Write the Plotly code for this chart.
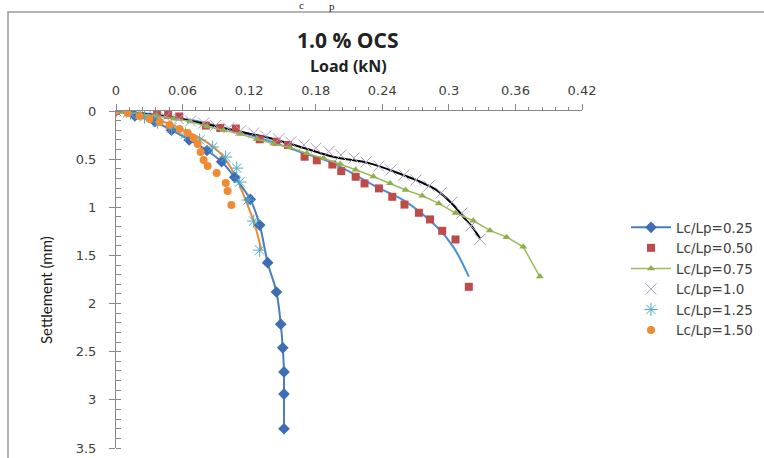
import plotly.graph_objects as go

# ---------------- data (Load kN, Settlement mm) ----------------
load_025 = [0, 0.017, 0.035, 0.050, 0.066, 0.082, 0.0952, 0.107, 0.121, 0.1295, 0.1367, 0.1446, 0.1485, 0.1503, 0.1514, 0.1514, 0.1514]
sett_025 = [0, 0.05, 0.11, 0.20, 0.30, 0.41, 0.527, 0.689, 0.918, 1.185, 1.575, 1.88, 2.214, 2.46, 2.71, 2.94, 3.30]

load_050 = [0, 0.037, 0.047, 0.057, 0.081, 0.094, 0.108, 0.1295, 0.1446, 0.155, 0.170, 0.181, 0.195, 0.203, 0.216, 0.224, 0.237, 0.249, 0.260, 0.273, 0.283, 0.294, 0.306, 0.318]
sett_050 = [0, 0.026, 0.042, 0.057, 0.151, 0.177, 0.182, 0.294, 0.319, 0.353, 0.475, 0.512, 0.556, 0.624, 0.683, 0.752, 0.804, 0.891, 0.972, 1.057, 1.126, 1.244, 1.334, 1.826]

load_075 = [0, 0.007, 0.022, 0.037, 0.052, 0.067, 0.082, 0.097, 0.112, 0.127, 0.142, 0.157, 0.172, 0.187, 0.202, 0.216, 0.232, 0.247, 0.261, 0.276, 0.291, 0.306, 0.322, 0.337, 0.352, 0.367, 0.382]
sett_075 = [0, 0.01, 0.03, 0.05, 0.08, 0.11, 0.16, 0.20, 0.24, 0.29, 0.34, 0.38, 0.44, 0.49, 0.55, 0.61, 0.68, 0.75, 0.82, 0.88, 0.96, 1.06, 1.14, 1.24, 1.31, 1.41, 1.72]

load_100 = [0, 0.0113, 0.0221, 0.0338, 0.0447, 0.0564, 0.0672, 0.0790, 0.0898, 0.1015, 0.1124, 0.1241, 0.1349, 0.1467, 0.1575, 0.1693, 0.1801, 0.1918, 0.2027, 0.2144, 0.2252, 0.2369, 0.2477, 0.2595, 0.2703, 0.2820, 0.2928, 0.3028, 0.3118, 0.3199, 0.3280]
sett_100 = [0, 0.010, 0.026, 0.042, 0.062, 0.083, 0.104, 0.125, 0.151, 0.177, 0.203, 0.229, 0.260, 0.291, 0.322, 0.353, 0.385, 0.421, 0.457, 0.489, 0.530, 0.572, 0.613, 0.665, 0.717, 0.780, 0.852, 0.946, 1.060, 1.195, 1.331]

load_125 = [0, 0.0131, 0.0257, 0.0375, 0.0501, 0.0627, 0.0754, 0.0871, 0.0988, 0.1088, 0.1115, 0.1190, 0.1241, 0.1295]
sett_125 = [0, 0.021, 0.062, 0.114, 0.177, 0.239, 0.301, 0.374, 0.478, 0.593, 0.738, 0.925, 1.143, 1.445]

load_150 = [0, 0.0104, 0.0212, 0.0302, 0.0393, 0.0483, 0.0573, 0.0645, 0.0699, 0.0736, 0.0763, 0.0790, 0.0826, 0.0907, 0.0989, 0.1006, 0.1040]
sett_150 = [0, 0.021, 0.052, 0.083, 0.114, 0.146, 0.187, 0.229, 0.281, 0.343, 0.426, 0.509, 0.572, 0.644, 0.748, 0.832, 0.977]

# fitted curves (no legend entries)
fit050_load = [0, 0.03, 0.05, 0.0754, 0.105, 0.1356, 0.1656, 0.1957, 0.238, 0.259, 0.289, 0.304, 0.318]
fit050_sett = [0, 0.03, 0.06, 0.111, 0.198, 0.302, 0.423, 0.544, 0.807, 0.926, 1.203, 1.411, 1.72]

fit100_load = [0, 0.04, 0.0754, 0.105, 0.1356, 0.1656, 0.1957, 0.2288, 0.2588, 0.274, 0.289, 0.304, 0.313, 0.322, 0.328]
fit100_sett = [0, 0.05, 0.122, 0.198, 0.273, 0.371, 0.475, 0.544, 0.665, 0.735, 0.821, 0.977, 1.099, 1.219, 1.323]

fit125_load = [0, 0.02, 0.04, 0.06, 0.08, 0.095, 0.107, 0.116, 0.125, 0.131]
fit125_sett = [0, 0.04, 0.10, 0.19, 0.31, 0.45, 0.66, 0.90, 1.18, 1.445]

names = ["Lc/Lp=0.25", "Lc/Lp=0.50", "Lc/Lp=0.75", "Lc/Lp=1.0", "Lc/Lp=1.25", "Lc/Lp=1.50"]
x_ticks = [0, 0.06, 0.12, 0.18, 0.24, 0.3, 0.36, 0.42]
x_tick_text = ["0", "0.06", "0.12", "0.18", "0.24", "0.3", "0.36", "0.42"]
y_ticks = [0, 0.5, 1, 1.5, 2, 2.5, 3, 3.5]
y_tick_text = ["0", "0.5", "1", "1.5", "2", "2.5", "3", "3.5"]

fig = go.Figure()

# fitted curves first (under markers)
fig.add_trace(go.Scatter(x=fit050_load, y=fit050_sett, mode="lines", line=dict(color="#4A8FD8", width=2, shape="spline"), showlegend=False, hoverinfo="skip"))
fig.add_trace(go.Scatter(x=fit100_load, y=fit100_sett, mode="lines", line=dict(color="#000000", width=2, shape="spline"), showlegend=False, hoverinfo="skip"))
fig.add_trace(go.Scatter(x=fit125_load, y=fit125_sett, mode="lines", line=dict(color="#F08A33", width=2, shape="spline"), showlegend=False, hoverinfo="skip"))

fig.add_trace(go.Scatter(x=load_025, y=sett_025, name=names[0], mode="lines+markers",
                         line=dict(color="#4A7EBB", width=2, shape="spline"),
                         marker=dict(symbol="diamond", size=9, color="#3D6DB5")))
fig.add_trace(go.Scatter(x=load_050, y=sett_050, name=names[1], mode="markers",
                         marker=dict(symbol="square", size=8, color="#BE4B48")))
fig.add_trace(go.Scatter(x=load_075, y=sett_075, name=names[2], mode="lines+markers",
                         line=dict(color="#9BBB59", width=1.5),
                         marker=dict(symbol="triangle-up", size=7, color="#8DB04A")))
fig.add_trace(go.Scatter(x=load_100, y=sett_100, name=names[3], mode="markers",
                         marker=dict(symbol="x-thin-open", size=11, color="#A89CC8", line=dict(width=1))))
fig.add_trace(go.Scatter(x=load_125, y=sett_125, name=names[4], mode="markers",
                         marker=dict(symbol="asterisk-open", size=11, color="#4BACC6", line=dict(width=1))))
fig.add_trace(go.Scatter(x=load_150, y=sett_150, name=names[5], mode="markers",
                         marker=dict(symbol="circle", size=8, color="#F08A33")))

axis_col = "#888888"
tick_font = dict(family="DejaVu Sans", size=13, color="#404040")
fig.update_layout(
    width=764, height=458,
    margin=dict(l=116, r=182, t=111, b=10, autoexpand=False),
    paper_bgcolor="white", plot_bgcolor="white",
    font=dict(family="DejaVu Sans", size=12, color="#333333"),
    showlegend=True,
    legend=dict(x=(626 - 116) / 466, y=(448 - 212) / 337, xanchor="left", yanchor="top",
                font=dict(family="DejaVu Sans", size=13.5, color="#404040"),
                bgcolor="rgba(0,0,0,0)", tracegroupgap=0, itemwidth=40),
    xaxis=dict(side="top", range=[0, 0.42], tickvals=x_ticks, ticktext=x_tick_text, automargin=False,
               showgrid=False, zeroline=False, showline=True, linecolor=axis_col, linewidth=1,
               ticks="outside", ticklen=6, tickcolor=axis_col, ticklabelstandoff=4,
               minor=dict(dtick=0.012, ticks="outside", ticklen=3, tickcolor=axis_col),
               tickfont=tick_font),
    yaxis=dict(range=[3.5, 0], tickvals=y_ticks, ticktext=y_tick_text, automargin=False,
               showgrid=False, zeroline=False, showline=True, linecolor=axis_col, linewidth=1,
               ticks="outside", ticklen=6, tickcolor=axis_col, ticklabelstandoff=10,
               minor=dict(dtick=0.1, ticks="inside", ticklen=5, tickcolor=axis_col),
               tickfont=tick_font),
)

# title / axis titles as annotations
fig.add_annotation(text="<b>1.0 % OCS</b>", xref="paper", yref="paper",
                   x=(348 - 116) / 466, y=(448 - 40) / 337, showarrow=False,
                   font=dict(family="Open Sans", size=21, color="#222222"), xanchor="center", yanchor="middle")
fig.add_annotation(text="<b>Load (kN)</b>", xref="paper", yref="paper",
                   x=(348 - 116) / 466, y=(448 - 66) / 337, showarrow=False,
                   font=dict(family="Open Sans", size=16, color="#222222"), xanchor="center", yanchor="middle")
fig.add_annotation(text="Settlement (mm)", xref="paper", yref="paper",
                   x=(46 - 116) / 466, y=(448 - 290) / 337, showarrow=False, textangle=-90,
                   font=dict(family="Lato", size=15, color="#1a1a1a"), xanchor="center", yanchor="middle")

# cut-off document text at top
fig.add_annotation(text="c", xref="paper", yref="paper", x=(301 - 116) / 466, y=(448 - 5) / 337,
                   showarrow=False, font=dict(family="Liberation Serif", size=11, color="#222222"),
                   xanchor="center", yanchor="middle")
fig.add_annotation(text="p", xref="paper", yref="paper", x=(332 - 116) / 466, y=(448 - 6) / 337,
                   showarrow=False, font=dict(family="Liberation Serif", size=11, color="#222222"),
                   xanchor="center", yanchor="middle")

# chart border box
fig.add_shape(type="rect", xref="paper", yref="paper",
              x0=(8 - 116) / 466, x1=(800 - 116) / 466, y0=(448 - 500) / 337, y1=(448 - 12) / 337,
              line=dict(color="#9a9a9a", width=1.5), fillcolor="rgba(0,0,0,0)", layer="below")

fig.write_html("out.html")
